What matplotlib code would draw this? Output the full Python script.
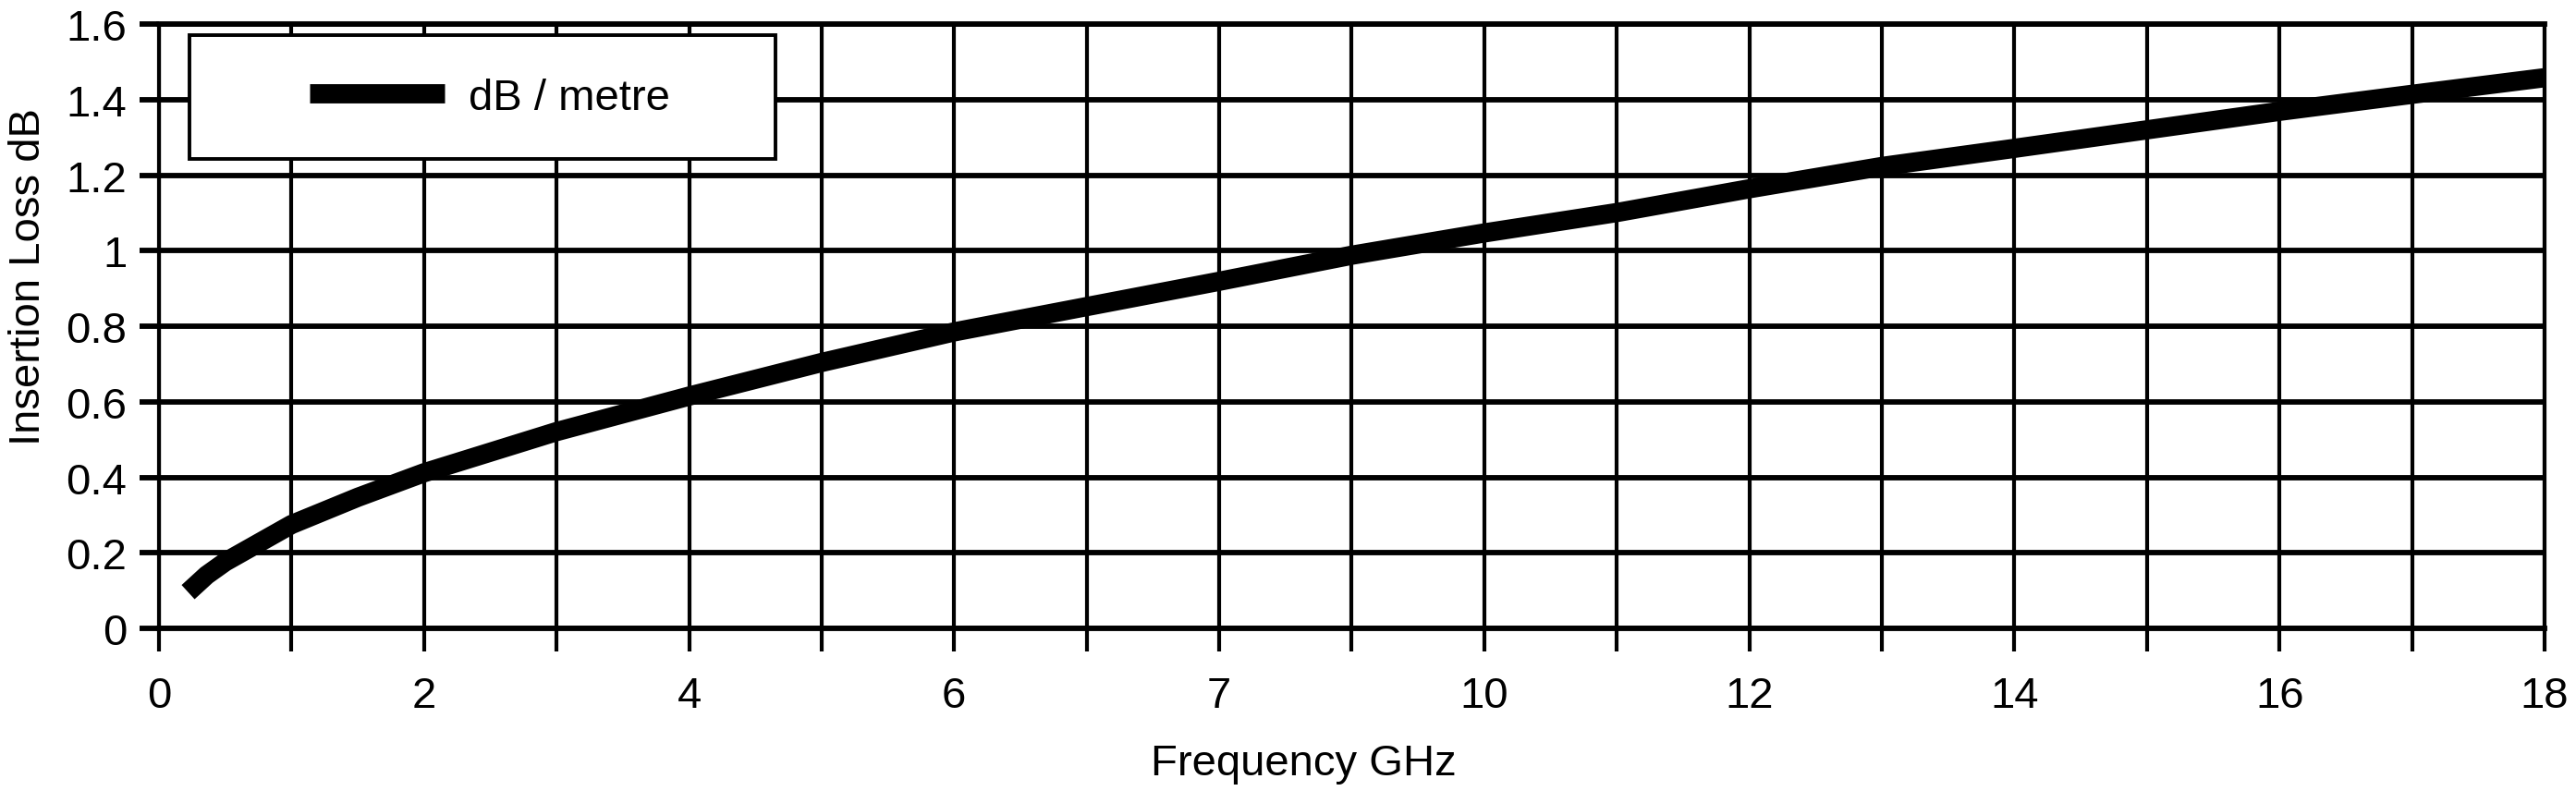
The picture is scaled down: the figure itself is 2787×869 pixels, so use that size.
import matplotlib
matplotlib.use('Agg')
import matplotlib.pyplot as plt
from matplotlib.patches import Rectangle
from matplotlib.ticker import MultipleLocator

#* datos (posicion en el eje x, perdida en dB)
freq_pos = [0.22, 0.36, 0.5, 1, 1.5, 2, 3, 4, 5, 6, 7, 8, 9, 10, 11, 12, 13, 14, 15, 16, 17, 18]
loss_db = [0.096, 0.141, 0.176, 0.275, 0.347, 0.412, 0.521, 0.615, 0.704, 0.785, 0.852, 0.919,
           0.988, 1.047, 1.101, 1.164, 1.223, 1.271, 1.32, 1.369, 1.414, 1.458]

x_tick_pos = [0, 2, 4, 6, 8, 10, 12, 14, 16, 18]
x_tick_labels = ['0', '2', '4', '6', '7', '10', '12', '14', '16', '18']
y_tick_pos = [0, 0.2, 0.4, 0.6, 0.8, 1.0, 1.2, 1.4, 1.6]
y_tick_labels = ['0', '0.2', '0.4', '0.6', '0.8', '1', '1.2', '1.4', '1.6']
serie = 'dB / metre'

plt.rcParams['font.family'] = ['Liberation Sans', 'DejaVu Sans']
fs = 34

fig = plt.figure(figsize=(27.87, 8.7), dpi=100)
ax = fig.add_axes([0.0617, 0.2172, 0.9261, 0.7517])

ax.plot(freq_pos, loss_db, color='black', lw=15, solid_capstyle='butt',
        solid_joinstyle='round', label=serie, zorder=3)

ax.set_xlim(0, 18)
ax.set_ylim(0, 1.6)
ax.set_xticks(x_tick_pos)
ax.set_xticklabels(x_tick_labels, fontsize=fs)
ax.xaxis.set_minor_locator(MultipleLocator(1))
ax.set_yticks(y_tick_pos)
ax.set_yticklabels(y_tick_labels, fontsize=fs)

#? rejilla: horizontales mas gruesas que verticales
ax.set_axisbelow(True)
ax.grid(axis='x', which='both', color='black', lw=3.0)
ax.grid(axis='y', which='major', color='black', lw=4.2)

ax.tick_params(axis='x', which='both', length=18, width=3.0, pad=19, color='black')
ax.tick_params(axis='y', which='major', length=15, width=4.2, pad=10, color='black')
for s in ['top', 'bottom']:
    ax.spines[s].set_linewidth(4.2)
for s in ['left', 'right']:
    ax.spines[s].set_linewidth(3.0)

ax.set_xlabel('Frequency GHz', fontsize=fs)
ax.xaxis.set_label_coords(0.48, -0.19)
ax.set_ylabel('Insertion Loss dB', fontsize=fs)
ax.yaxis.set_label_coords(-0.046, 0.583)

#* caja de la leyenda
ax.add_patch(Rectangle((0.0128, 0.777), 0.2456, 0.205, transform=ax.transAxes,
                       facecolor='white', edgecolor='black', lw=2.8, zorder=4))
leg = ax.legend(loc='center left', bbox_to_anchor=(0.0632, 0.878), frameon=False,
                fontsize=fs, handlelength=3.1, handletextpad=0.55,
                borderpad=0, borderaxespad=0)
leg.set_zorder(5)

fig.savefig('out.png', dpi=100, facecolor='white')
